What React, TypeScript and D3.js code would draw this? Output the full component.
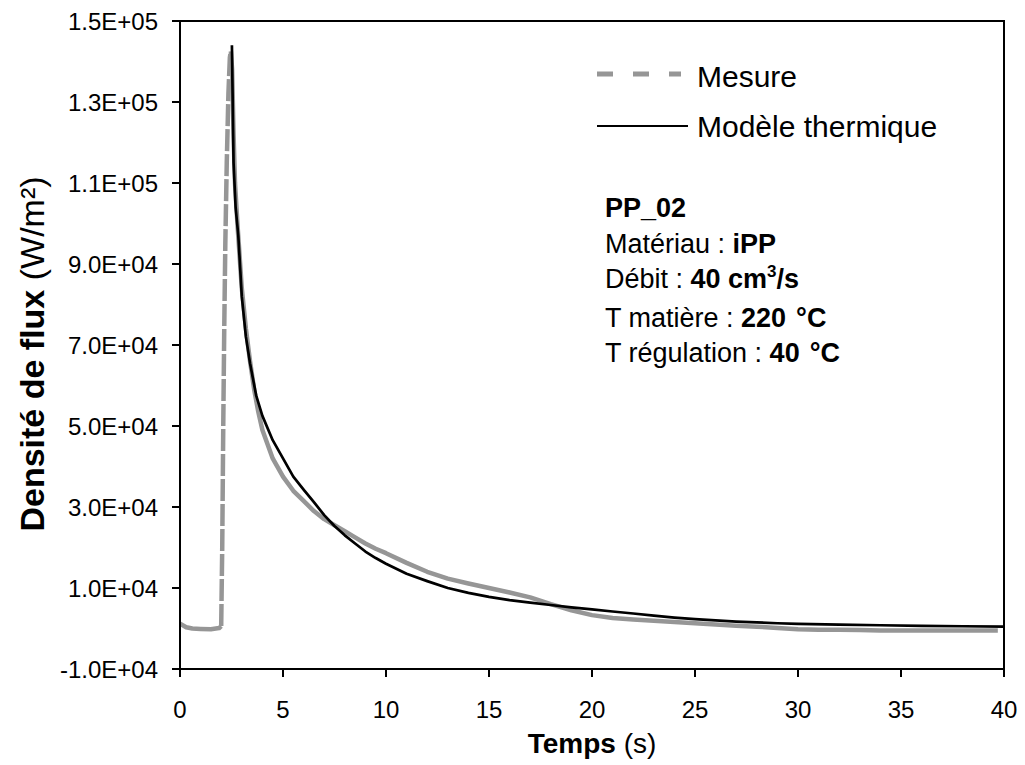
import React from "react";
import * as d3 from "d3";

// ---- data ----
const mesureT = [0, 0.3, 0.6, 1.0, 1.5, 1.9, 2.0, 2.05, 2.1, 2.15, 2.2, 2.27, 2.35, 2.42, 2.47, 2.53, 2.6, 2.67, 2.8, 3.0, 3.2, 3.4, 3.6, 3.8, 4.0, 4.5, 5.0, 5.5, 6.0, 6.5, 7.0, 7.5, 8.0, 8.5, 9.0, 9.5, 10.0, 11.0, 12.0, 13.0, 14.0, 15.0, 16.0, 17.0, 18.0, 19.0, 20.0, 21.0, 22.0, 23.0, 24.0, 25.0, 26.0, 27.0, 28.0, 29.0, 30.0, 31.0, 32.0, 33.0, 34.0, 35.0, 36.0, 37.0, 38.0, 39.0, 39.7];
const mesureV = [1200, 300, 0, -100, -200, 100, 600, 20000, 50000, 75000, 95000, 115000, 132000, 141000, 142500, 138000, 122000, 110000, 99000, 84000, 74000, 66000, 59000, 53500, 49000, 42000, 37500, 34000, 31500, 29000, 27000, 25500, 24000, 22500, 21000, 19700, 18600, 16200, 14000, 12300, 11100, 10000, 8900, 7700, 6000, 4500, 3300, 2600, 2200, 1900, 1600, 1300, 1000, 700, 450, 150, -200, -300, -300, -400, -500, -500, -500, -500, -500, -500, -500];

const modeleT = [2.52, 2.6, 2.7, 2.83, 3.0, 3.2, 3.4, 3.7, 4.0, 4.5, 5.0, 5.5, 6.0, 6.5, 7.0, 7.5, 8.0, 8.5, 9.0, 9.5, 10.0, 11.0, 12.0, 13.0, 14.0, 15.0, 16.0, 17.0, 18.0, 19.0, 20.0, 21.0, 22.0, 23.0, 24.0, 25.0, 26.0, 27.0, 28.0, 29.0, 30.0, 32.0, 34.0, 36.0, 38.0, 40.0];
const modeleV = [144000, 115000, 104000, 97000, 82000, 72000, 65500, 57500, 52500, 46500, 42000, 37500, 34300, 31200, 28000, 25300, 23000, 21000, 19000, 17400, 16000, 13500, 11700, 10000, 8800, 7800, 7000, 6400, 5800, 5200, 4700, 4200, 3700, 3200, 2700, 2300, 2000, 1700, 1500, 1300, 1150, 950, 800, 650, 550, 450];

const xTicks = [0, 5, 10, 15, 20, 25, 30, 35, 40];
const yTicks = [-10000, 10000, 30000, 50000, 70000, 90000, 110000, 130000, 150000];
const yTickLabels = ["-1.0E+04", "1.0E+04", "3.0E+04", "5.0E+04", "7.0E+04", "9.0E+04", "1.1E+05", "1.3E+05", "1.5E+05"];

const legendLabels = ["Mesure", "Modèle thermique"];

const FONT = "'Liberation Sans', Arial, Helvetica, sans-serif";

export default function App() {
  const W = 1025, H = 765;
  const left = 180, right = 1004, top = 21, bottom = 669;
  const x = d3.scaleLinear().domain([0, 40]).range([left, right]);
  const y = d3.scaleLinear().domain([-10000, 150000]).range([bottom, top]);

  const mesure = mesureT.map((t, i) => [t, mesureV[i]] as [number, number]);
  const modele = modeleT.map((t, i) => [t, modeleV[i]] as [number, number]);
  const riseStart = mesureT.indexOf(2.0);
  const riseEnd = mesureT.indexOf(2.47);
  const before = mesure.slice(0, riseStart + 1);
  const rise = mesure.slice(riseStart, riseEnd + 1);
  const after = mesure.slice(riseEnd);
  const line = d3.line<[number, number]>().x(d => x(d[0])).y(d => y(d[1]));

  const axisColor = "#000";
  const gray = "#969696";
  return (
    <svg width={W} height={H} style={{ position: "absolute", left: 0, top: 0, background: "#fff" }} fontFamily={FONT}>
      <rect x={0} y={0} width={W} height={H} fill="#fff" />
      {/* data */}
      <path d={line(before) || ""} fill="none" stroke={gray} strokeWidth={4.5} strokeLinejoin="round" />
      <path d={line(rise) || ""} fill="none" stroke={gray} strokeWidth={4.5} strokeDasharray="22,3" />
      <path d={line(after) || ""} fill="none" stroke={gray} strokeWidth={4.5} strokeLinejoin="round" />
      <path d={line(modele) || ""} fill="none" stroke="#000" strokeWidth={2.7} strokeLinejoin="round" />

      {/* frame */}
      <rect x={left} y={top} width={right - left} height={bottom - top} fill="none" stroke={axisColor} strokeWidth={2} />

      {/* y ticks */}
      {yTicks.map((v, i) => (
        <g key={"y" + i}>
          <line x1={left - 8} x2={left} y1={y(v)} y2={y(v)} stroke={axisColor} strokeWidth={2} />
          <text x={158} y={y(v) + 9} textAnchor="end" fontSize={24} fill="#000">{yTickLabels[i]}</text>
        </g>
      ))}
      {/* x ticks */}
      {xTicks.map((v, i) => (
        <g key={"x" + i}>
          <line x1={x(v)} x2={x(v)} y1={bottom} y2={bottom + 8} stroke={axisColor} strokeWidth={2} />
          <text x={x(v)} y={718} textAnchor="middle" fontSize={24} fill="#000">{v}</text>
        </g>
      ))}

      {/* axis titles */}
      <text x={(left + right) / 2} y={753} textAnchor="middle" fontSize={28} fill="#000">
        <tspan fontWeight="bold">Temps</tspan> (s)
      </text>
      <text transform={`translate(44, 354) rotate(-90)`} textAnchor="middle" fontSize={34} fill="#000">
        <tspan fontWeight="bold">Densité de flux</tspan> (W/m²)
      </text>

      {/* legend */}
      <line x1={597} x2={681} y1={74} y2={74} stroke={gray} strokeWidth={5} strokeDasharray="16,20" />
      <text x={697} y={87} fontSize={30} fill="#000">{legendLabels[0]}</text>
      <line x1={597} x2={688} y1={126} y2={126} stroke="#000" strokeWidth={2} />
      <text x={697} y={137} fontSize={30} fill="#000">{legendLabels[1]}</text>

      {/* annotation */}
      <g fontSize={27} fill="#000">
        <text x={605} y={217} fontWeight="bold">PP_02</text>
        <text x={605} y={253}>Matériau : <tspan fontWeight="bold">iPP</tspan></text>
        <text x={605} y={288}>Débit : <tspan fontWeight="bold">40 cm</tspan><tspan fontWeight="bold" fontSize={17} dy={-11}>3</tspan><tspan fontWeight="bold" dy={11}>/s</tspan></text>
        <text x={605} y={327}>T matière : <tspan fontWeight="bold">220</tspan><tspan fontWeight="bold" dx={10}>°C</tspan></text>
        <text x={605} y={362}>T régulation : <tspan fontWeight="bold">40</tspan><tspan fontWeight="bold" dx={10}>°C</tspan></text>
      </g>
    </svg>
  );
}
